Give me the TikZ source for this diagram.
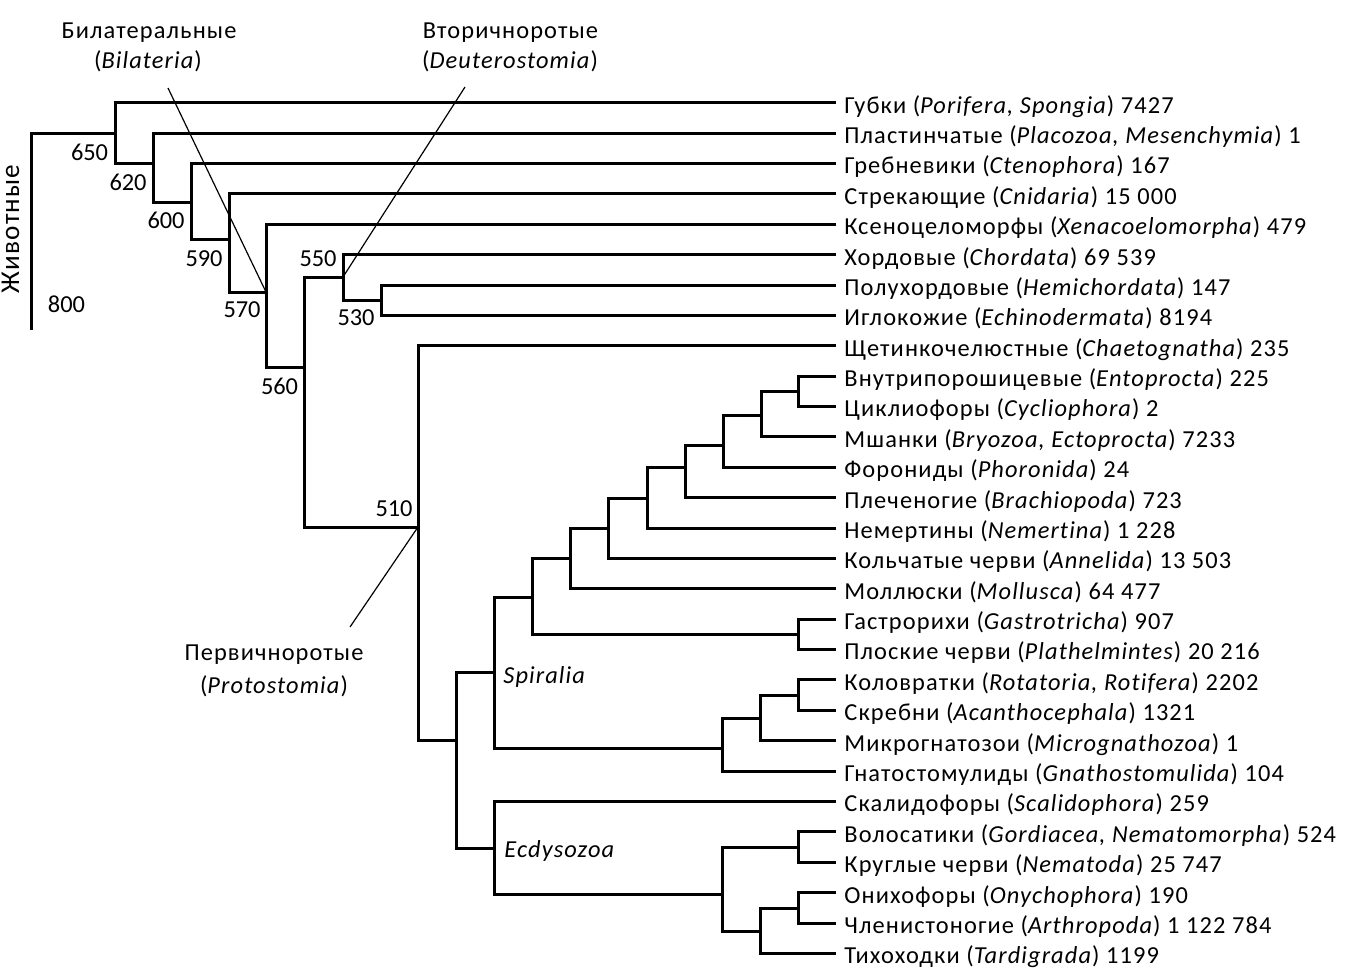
\documentclass[tikz,border=0pt]{standalone}
\usepackage{fontspec}
\setmainfont{Carlito}[LetterSpace=4.5,Ligatures=CommonOff]
\newfontfamily\numfont{Carlito}
\begin{document}
\begin{tikzpicture}[x=0.5pt,y=-0.5pt,
  tree/.style={line width=1.5pt,line join=miter},
  pointer/.style={line width=0.6pt},
  leaf/.style={anchor=west,inner xsep=4pt,inner ysep=0pt,text height=10.4pt,text depth=0pt,font=\fontsize{12.2}{14}\selectfont},
  num/.style={inner sep=0pt,font=\numfont\fontsize{12.2}{14}\selectfont},
  lbl/.style={inner sep=0pt,anchor=base,font=\fontsize{12.2}{14}\selectfont},
  clade/.style={inner sep=0pt,anchor=west,font=\fontsize{12.2}{14}\selectfont\itshape}]
\useasboundingbox (0,0) rectangle (1350,976);
% leaves
\node[leaf] (L1)  at (836,102.7) {Губки (\textit{Porifera, Spongia}) 7427};
\node[leaf] (L2)  at (836,133.1) {Пластинчатые (\textit{Placozoa, Mesenchymia}) 1};
\node[leaf] (L3)  at (836,163.5) {Гребневики (\textit{Ctenophora}) 167};
\node[leaf] (L4)  at (836,193.8) {Стрекающие (\textit{Cnidaria}) 15 000};
\node[leaf] (L5)  at (836,224.2) {Ксеноцеломорфы (\textit{Xenacoelomorpha}) 479};
\node[leaf] (L6)  at (836,254.6) {Хордовые (\textit{Chordata}) 69 539};
\node[leaf] (L7)  at (836,285.0) {Полухордовые (\textit{Hemichordata}) 147};
\node[leaf] (L8)  at (836,315.4) {Иглокожие (\textit{Echinodermata}) 8194};
\node[leaf] (L9)  at (836,345.7) {Щетинкочелюстные (\textit{Chaetognatha}) 235};
\node[leaf] (L10) at (836,376.1) {Внутрипорошицевые (\textit{Entoprocta}) 225};
\node[leaf] (L11) at (836,406.5) {Циклиофоры (\textit{Cycliophora}) 2};
\node[leaf] (L12) at (836,436.9) {Мшанки (\textit{Bryozoa, Ectoprocta}) 7233};
\node[leaf] (L13) at (836,467.3) {Форониды (\textit{Phoronida}) 24};
\node[leaf] (L14) at (836,497.6) {Плеченогие (\textit{Brachiopoda}) 723};
\node[leaf] (L15) at (836,528.0) {Немертины (\textit{Nemertina}) 1 228};
\node[leaf] (L16) at (836,558.4) {Кольчатые черви (\textit{Annelida}) 13 503};
\node[leaf] (L17) at (836,588.8) {Моллюски (\textit{Mollusca}) 64 477};
\node[leaf] (L18) at (836,619.2) {Гастрорихи (\textit{Gastrotricha}) 907};
\node[leaf] (L19) at (836,649.5) {Плоские черви (\textit{Plathelmintes}) 20 216};
\node[leaf] (L20) at (836,679.9) {Коловратки (\textit{Rotatoria, Rotifera}) 2202};
\node[leaf] (L21) at (836,710.3) {Скребни (\textit{Acanthocephala}) 1321};
\node[leaf] (L22) at (836,740.7) {Микрогнатозои (\textit{Micrognathozoa}) 1};
\node[leaf] (L23) at (836,771.1) {Гнатостомулиды (\textit{Gnathostomulida}) 104};
\node[leaf] (L24) at (836,801.4) {Скалидофоры (\textit{Scalidophora}) 259};
\node[leaf] (L25) at (836,831.8) {Волосатики (\textit{Gordiacea, Nematomorpha}) 524};
\node[leaf] (L26) at (836,862.2) {Круглые черви (\textit{Nematoda}) 25 747};
\node[leaf] (L27) at (836,892.6) {Онихофоры (\textit{Onychophora}) 190};
\node[leaf] (L28) at (836,923.0) {Членистоногие (\textit{Arthropoda}) 1 122 784};
\node[leaf] (L29) at (836,953.3) {Тихоходки (\textit{Tardigrada}) 1199};
% internal nodes
\coordinate (root) at (31.5,133.1);
\coordinate (rootend) at (31.5,330);
\coordinate (n650) at (115,133.1);
\coordinate (n620) at (153,163);
\coordinate (n600) at (191,202);
\coordinate (n590) at (229,239);
\coordinate (n570) at (266,292);
\coordinate (n560) at (304,367.5);
\coordinate (n550) at (343,277);
\coordinate (n530) at (381,300);
\coordinate (n510) at (418,527);
\coordinate (nP) at (456,740);
\coordinate (nSp) at (494.5,672);
\coordinate (nA) at (532,597);
\coordinate (nB) at (570,558);
\coordinate (nC) at (608,528);
\coordinate (nD) at (647,498);
\coordinate (nE) at (685,467);
\coordinate (nF) at (723,445);
\coordinate (nH) at (761,415);
\coordinate (nI) at (798,391.5);
\coordinate (nG) at (798,634);
\coordinate (nR) at (722,748);
\coordinate (nS) at (760,718);
\coordinate (nT) at (798,695);
\coordinate (nEc) at (494.5,848);
\coordinate (nU) at (722,894);
\coordinate (nV) at (798,847);
\coordinate (nW) at (760,931);
\coordinate (nX) at (798,908);
% tree
\draw[tree] (rootend) -- (root) -- (n650);
\draw[tree] (L1.west) -| (n650) |- (n620);
\draw[tree] (L2.west) -| (n620) |- (n600);
\draw[tree] (L3.west) -| (n600) |- (n590);
\draw[tree] (L4.west) -| (n590) |- (n570);
\draw[tree] (L5.west) -| (n570) |- (n560);
\draw[tree] (n550) -| (n560) |- (n510);
\draw[tree] (L6.west) -| (n550) |- (n530);
\draw[tree] (L7.west) -| (n530) |- (L8.west);
\draw[tree] (L9.west) -| (n510) |- (nP);
\draw[tree] (nSp) -| (nP) |- (nEc);
\draw[tree] (nA) -| (nSp) |- (nR);
\draw[tree] (nB) -| (nA) |- (nG);
\draw[tree] (L18.west) -| (nG) |- (L19.west);
\draw[tree] (nC) -| (nB) |- (L17.west);
\draw[tree] (nD) -| (nC) |- (L16.west);
\draw[tree] (nE) -| (nD) |- (L15.west);
\draw[tree] (nF) -| (nE) |- (L14.west);
\draw[tree] (nH) -| (nF) |- (L13.west);
\draw[tree] (nI) -| (nH) |- (L12.west);
\draw[tree] (L10.west) -| (nI) |- (L11.west);
\draw[tree] (nS) -| (nR) |- (L23.west);
\draw[tree] (nT) -| (nS) |- (L22.west);
\draw[tree] (L20.west) -| (nT) |- (L21.west);
\draw[tree] (L24.west) -| (nEc) |- (nU);
\draw[tree] (nV) -| (nU) |- (nW);
\draw[tree] (L25.west) -| (nV) |- (L26.west);
\draw[tree] (nX) -| (nW) |- (L29.west);
\draw[tree] (L27.west) -| (nX) |- (L28.west);
% ages
\node[num,anchor=east] (a650) at (108.5,152) {650};
\node[num,anchor=east] (a620) at (147,182) {620};
\node[num,anchor=east] (a600) at (185,220) {600};
\node[num,anchor=east] (a590) at (223,258.5) {590};
\node[num,anchor=east] (a570) at (261,310) {570};
\node[num,anchor=east] (a560) at (298.5,386.5) {560};
\node[num,anchor=east] (a550) at (337,258.5) {550};
\node[num,anchor=east] (a530) at (375,318) {530};
\node[num,anchor=east] (a510) at (413,508.5) {510};
\node[num] (a800) at (66.5,304.5) {800};
\node[lbl,rotate=90,font=\fontsize{13.6}{16}\selectfont] (anim) at (19,229) {Животные};
% group labels
\node[lbl] (bil1) at (149,38) {Билатеральные};
\node[lbl] (bil2) at (148,68.5) {(\textit{Bilateria})};
\node[lbl] (deu1) at (510.5,38) {Вторичноротые};
\node[lbl] (deu2) at (510,68.5) {(\textit{Deuterostomia})};
\node[lbl] (pro1) at (274,660) {Первичноротые};
\node[lbl] (pro2) at (274,693) {(\textit{Protostomia})};
\coordinate (bilp) at (168,88);
\coordinate (deup) at (465,87);
\coordinate (prop) at (350,627);
\draw[pointer] (bilp) -- (n570);
\draw[pointer] (deup) -- (n550);
\draw[pointer] (prop) -- (n510);
\node[clade] (spir) at (503,676.5) {Spiralia};
\node[clade] (ecdy) at (504,850.5) {Ecdysozoa};
\end{tikzpicture}
\end{document}
